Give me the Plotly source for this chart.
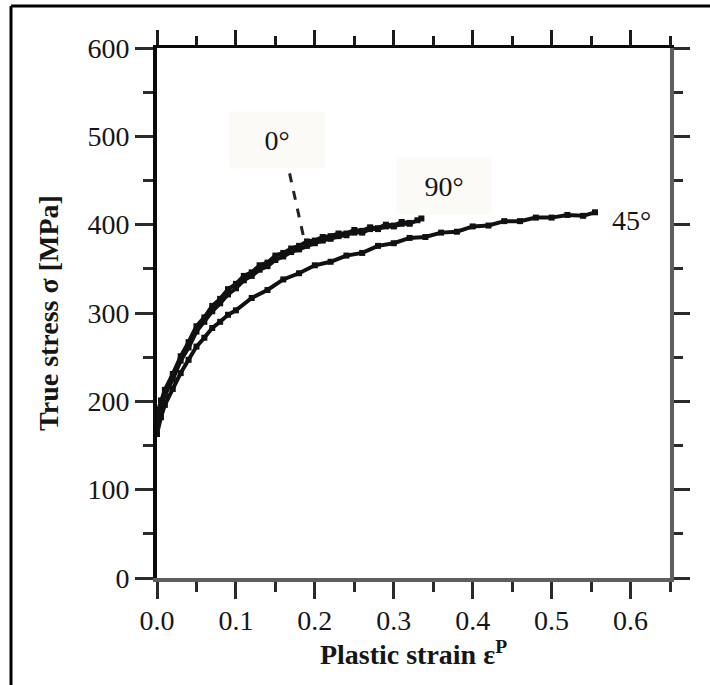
import plotly.graph_objects as go

# Flow curves (true stress vs plastic strain) for three sheet orientations
strain_0 = [0.0, 0.005, 0.01, 0.02, 0.03, 0.04, 0.05, 0.06, 0.07, 0.08, 0.09, 0.10,
            0.11, 0.12, 0.13, 0.14, 0.15, 0.16, 0.17, 0.18, 0.19, 0.20, 0.21, 0.22,
            0.23, 0.24, 0.25, 0.26, 0.27, 0.28, 0.29, 0.30, 0.31, 0.32]
stress_0 = [186, 201, 213, 231, 251, 267, 285, 295, 308, 316, 327, 333,
            342, 346, 354, 357, 365, 368, 373, 376, 381, 382, 386, 387,
            390, 390, 394, 393, 397, 396, 400, 399, 403, 402]

strain_90 = [0.0, 0.005, 0.01, 0.02, 0.03, 0.04, 0.05, 0.06, 0.07, 0.08, 0.09, 0.10,
             0.11, 0.12, 0.13, 0.14, 0.15, 0.16, 0.17, 0.18, 0.19, 0.20, 0.21, 0.22,
             0.23, 0.24, 0.25, 0.26, 0.27, 0.28, 0.29, 0.30, 0.31, 0.32, 0.33, 0.335]
stress_90 = [176, 194, 207, 225, 246, 261, 279, 290, 302, 311, 321, 328,
             337, 342, 349, 353, 360, 364, 369, 372, 376, 379, 382, 384,
             387, 388, 391, 391, 395, 395, 398, 398, 401, 401, 405, 407]

strain_45 = [0.0, 0.005, 0.01, 0.02, 0.03, 0.04, 0.05, 0.06, 0.07, 0.08, 0.09, 0.10,
             0.12, 0.14, 0.16, 0.18, 0.20, 0.22, 0.24, 0.26, 0.28, 0.30, 0.32, 0.34,
             0.36, 0.38, 0.40, 0.42, 0.44, 0.46, 0.48, 0.50, 0.52, 0.54, 0.555]
stress_45 = [163, 182, 196, 214, 232, 247, 262, 272, 283, 290, 298, 303,
             317, 326, 338, 345, 354, 358, 365, 368, 376, 379, 385, 386,
             391, 392, 398, 399, 404, 404, 408, 408, 411, 410, 414]

# Leader from the 0° label to its curve
leader_strain = [0.168, 0.186]
leader_stress = [458, 385]

labels = ["0°", "90°", "45°"]
label_strain = [0.152, 0.364, 0.601]
label_stress = [496, 444, 405]

x_ticks = [0.0, 0.1, 0.2, 0.3, 0.4, 0.5, 0.6]
y_ticks = [0, 100, 200, 300, 400, 500, 600]

SERIF = "Liberation Serif, Times New Roman, serif"
INK = "#161616"
GREY = "#5e5e5e"

fig = go.Figure()

curve_style = dict(mode="lines+markers",
                   line=dict(color="#111111", width=4),
                   marker=dict(symbol="square", size=6, color="#111111"),
                   showlegend=False, hoverinfo="skip")

fig.add_trace(go.Scatter(x=strain_45, y=stress_45, name="45°", **curve_style))
fig.add_trace(go.Scatter(x=strain_90, y=stress_90, name="90°", **curve_style))
fig.add_trace(go.Scatter(x=strain_0, y=stress_0, name="0°", **curve_style))

fig.add_trace(go.Scatter(x=leader_strain, y=leader_stress, mode="lines",
                         line=dict(color="#222222", width=3, dash="dash"),
                         showlegend=False, hoverinfo="skip"))

# Companion axes for the top and right frame edges
fig.add_trace(go.Scatter(x=[None], y=[None], xaxis="x2", yaxis="y2",
                         showlegend=False, hoverinfo="skip"))

for txt, sx, sy in zip(labels, label_strain, label_stress):
    boxed = txt != "45°"
    fig.add_annotation(x=sx, y=sy, text=txt, showarrow=False,
                       font=dict(family=SERIF, size=28, color=INK),
                       bgcolor="#fbfaf7" if boxed else "rgba(0,0,0,0)",
                       width=92 if boxed else None,
                       height=54 if boxed else None,
                       borderpad=1)

tickfont = dict(family=SERIF, size=28, color=INK)

fig.update_layout(
    width=710, height=685,
    margin=dict(l=157, r=40, t=48, b=107),
    paper_bgcolor="white", plot_bgcolor="white",
    xaxis=dict(range=[0, 0.65], tickvals=x_ticks, tickformat=".1f",
               showgrid=False, zeroline=False,
               showline=True, linecolor=GREY, linewidth=4,
               ticks="outside", ticklen=17, tickwidth=3, tickcolor="#2a2a2a",
               ticklabelstandoff=-3,
               minor=dict(dtick=0.05, ticks="outside", ticklen=10, tickwidth=3,
                          tickcolor="#2a2a2a", showgrid=False),
               tickfont=tickfont,
               title=dict(text="<b>Plastic strain ε<sup>P</sup></b>",
                          font=dict(family=SERIF, size=28, color=INK),
                          standoff=5)),
    xaxis2=dict(range=[0, 0.65], overlaying="x", side="top", matches="x",
                tickvals=x_ticks, showticklabels=False,
                showgrid=False, zeroline=False,
                showline=True, linecolor="#0a0a0a", linewidth=3,
                ticks="outside", ticklen=15, tickwidth=3, tickcolor="#1a1a1a",
                minor=dict(dtick=0.05, ticks="outside", ticklen=9, tickwidth=3,
                           tickcolor="#1a1a1a", showgrid=False)),
    yaxis=dict(range=[0, 600], tickvals=y_ticks,
               showgrid=False, zeroline=False,
               showline=True, linecolor="#0a0a0a", linewidth=4,
               ticks="outside", ticklen=18, tickwidth=3, tickcolor="#2a2a2a",
               minor=dict(dtick=50, ticks="outside", ticklen=10, tickwidth=3,
                          tickcolor="#2a2a2a", showgrid=False),
               tickfont=tickfont,
               title=dict(text="<b>True stress σ [MPa]</b>",
                          font=dict(family=SERIF, size=28, color=INK),
                          standoff=22)),
    yaxis2=dict(range=[0, 600], overlaying="y", side="right", matches="y",
                tickvals=y_ticks, showticklabels=False,
                showgrid=False, zeroline=False,
                showline=True, linecolor=GREY, linewidth=4,
                ticks="outside", ticklen=16, tickwidth=3, tickcolor="#2a2a2a",
                minor=dict(dtick=50, ticks="outside", ticklen=9, tickwidth=3,
                           tickcolor="#2a2a2a", showgrid=False)),
    shapes=[
        dict(type="line", xref="paper", yref="paper",
             x0=(11 - 157) / 513, x1=1.09, y0=(578 - 6) / 530, y1=(578 - 6) / 530,
             line=dict(color="#000000", width=3)),
        dict(type="line", xref="paper", yref="paper",
             x0=(11 - 157) / 513, x1=(11 - 157) / 513, y0=(578 - 6) / 530, y1=-0.22,
             line=dict(color="#000000", width=3)),
    ],
)

fig.write_html("out.html")
